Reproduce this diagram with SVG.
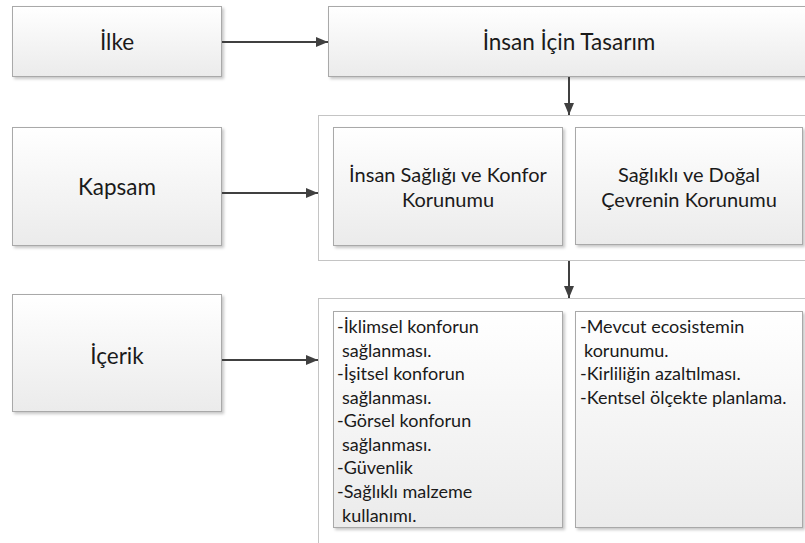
<svg xmlns="http://www.w3.org/2000/svg" width="805" height="543" viewBox="0 0 805 543">
  <defs>
    <linearGradient id="boxFill" x1="0" y1="0" x2="0" y2="1">
      <stop offset="0" stop-color="#ffffff"/>
      <stop offset="1" stop-color="#ebebeb"/>
    </linearGradient>
    <filter id="shadow" x="-5%" y="-5%" width="115%" height="120%">
      <feDropShadow dx="2" dy="2" stdDeviation="1.5" flood-color="#000" flood-opacity="0.22"/>
    </filter>
    <marker id="arrow" viewBox="0 0 12 10" refX="12" refY="5" markerWidth="12" markerHeight="10" markerUnits="userSpaceOnUse" orient="auto">
      <path d="M0,0 L12,5 L0,10 Z" fill="#404040"/>
    </marker>
  </defs>
  <style>
    .box { fill: url(#boxFill); stroke: #a9a9a9; stroke-width: 1; filter: url(#shadow); }
    .frame { fill: #ffffff; stroke: #c4c4c4; stroke-width: 1; }
    .lbl { font-family: "Lato", "Open Sans", "Liberation Sans", sans-serif; font-size: 18px; fill: #1a1a1a; }
    .big { font-size: 22.5px; }
    .sub { font-size: 20px; }
    .mid { text-anchor: middle; }
    .conn { stroke: #404040; stroke-width: 2; fill: none; marker-end: url(#arrow); }
  </style>

  <!-- row 1 -->
  <g id="ilke">
    <rect class="box" x="12.5" y="6.5" width="209" height="70"/>
    <text class="lbl big mid" x="117" y="50">İlke</text>
  </g>
  <g id="insan-icin-tasarim">
    <rect class="box" x="328.5" y="6.5" width="490" height="70"/>
    <text class="lbl big mid" x="569" y="50">İnsan İçin Tasarım</text>
  </g>

  <!-- row 2 -->
  <g id="kapsam">
    <rect class="box" x="12.5" y="127.5" width="209" height="118"/>
    <text class="lbl big mid" x="117" y="195">Kapsam</text>
  </g>
  <g id="kapsam-grup">
    <rect class="frame" x="318.5" y="115.5" width="500" height="145"/>
    <g id="insan-sagligi">
      <rect class="box" x="333.5" y="127.5" width="229" height="118"/>
      <text class="lbl sub mid" x="448" y="182">İnsan Sağlığı ve Konfor</text>
      <text class="lbl sub mid" x="448" y="207">Korunumu</text>
    </g>
    <g id="dogal-cevre">
      <rect class="box" x="575.5" y="127.5" width="227" height="117"/>
      <text class="lbl sub mid" x="689" y="182">Sağlıklı ve Doğal</text>
      <text class="lbl sub mid" x="689" y="207">Çevrenin Korunumu</text>
    </g>
  </g>

  <!-- row 3 -->
  <g id="icerik">
    <rect class="box" x="12.5" y="294.5" width="209" height="117"/>
    <text class="lbl big mid" x="117" y="364">İçerik</text>
  </g>
  <g id="icerik-grup">
    <rect class="frame" x="318.5" y="298.5" width="500" height="260"/>
    <g id="konfor-listesi">
      <rect class="box" x="333.5" y="311.5" width="229" height="216"/>
      <text class="lbl" x="337" y="333">-İklimsel konforun</text>
      <text class="lbl" x="342" y="357">sağlanması.</text>
      <text class="lbl" x="337" y="380">-İşitsel konforun</text>
      <text class="lbl" x="342" y="404">sağlanması.</text>
      <text class="lbl" x="337" y="427">-Görsel konforun</text>
      <text class="lbl" x="342" y="451">sağlanması.</text>
      <text class="lbl" x="337" y="474">-Güvenlik</text>
      <text class="lbl" x="337" y="498">-Sağlıklı malzeme</text>
      <text class="lbl" x="342" y="522">kullanımı.</text>
    </g>
    <g id="cevre-listesi">
      <rect class="box" x="575.5" y="311.5" width="227" height="216"/>
      <text class="lbl" x="580" y="333">-Mevcut ecosistemin</text>
      <text class="lbl" x="584" y="357">korunumu.</text>
      <text class="lbl" x="580" y="380">-Kirliliğin azaltılması.</text>
      <text class="lbl" x="580" y="404">-Kentsel ölçekte planlama.</text>
    </g>
  </g>

  <!-- connectors -->
  <g id="connectors">
    <line class="conn" x1="222" y1="42" x2="328" y2="42"/>
    <line class="conn" x1="569" y1="77" x2="569" y2="115"/>
    <line class="conn" x1="222" y1="193" x2="318" y2="193"/>
    <line class="conn" x1="569" y1="261" x2="569" y2="298"/>
    <line class="conn" x1="222" y1="360" x2="318" y2="360"/>
  </g>
</svg>
